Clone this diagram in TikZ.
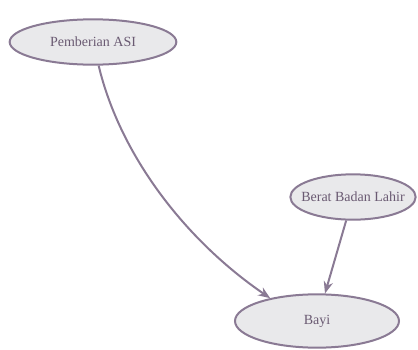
\documentclass[tikz,border=0pt]{standalone}
\usepackage{fontspec}
\setmainfont{Liberation Serif}
\usetikzlibrary{shapes.geometric,arrows.meta}
\definecolor{rimcol}{HTML}{8A7A94}
\definecolor{fillcol}{HTML}{E9E9EB}
\definecolor{txtcol}{HTML}{6A5A72}
\tikzset{every picture/.style={line width=0.75pt}}
\tikzset{varnode/.style={ellipse,draw=rimcol,fill=fillcol,line width=1.5pt,inner sep=0pt,text=txtcol,font=\fontsize{10.5}{12}\selectfont}}
\tikzset{linkarrow/.style={draw=rimcol,line width=1.5pt,-{Stealth[length=9pt,width=7pt]}}}

\begin{document}
\begin{tikzpicture}[x=0.75pt,y=0.75pt,yscale=-1,xscale=1]
\useasboundingbox (0,0) rectangle (418,350);

% Ellipse nodes
\node [varnode,minimum width=125pt,minimum height=34pt] (asi) at (93,42) {Pemberian ASI};
\node [varnode,minimum width=94pt,minimum height=34pt,inner xsep=-9pt] (berat) at (353,197) {Berat Badan Lahir};
\node [varnode,minimum width=123pt,minimum height=40pt] (bayi) at (317,321) {Bayi};

% Curved Lines
\draw [linkarrow] (asi) .. controls (120,155) and (185,240) .. (bayi.154);
% Straight Lines
\draw [linkarrow] (berat) -- (bayi);

\end{tikzpicture}
\end{document}
